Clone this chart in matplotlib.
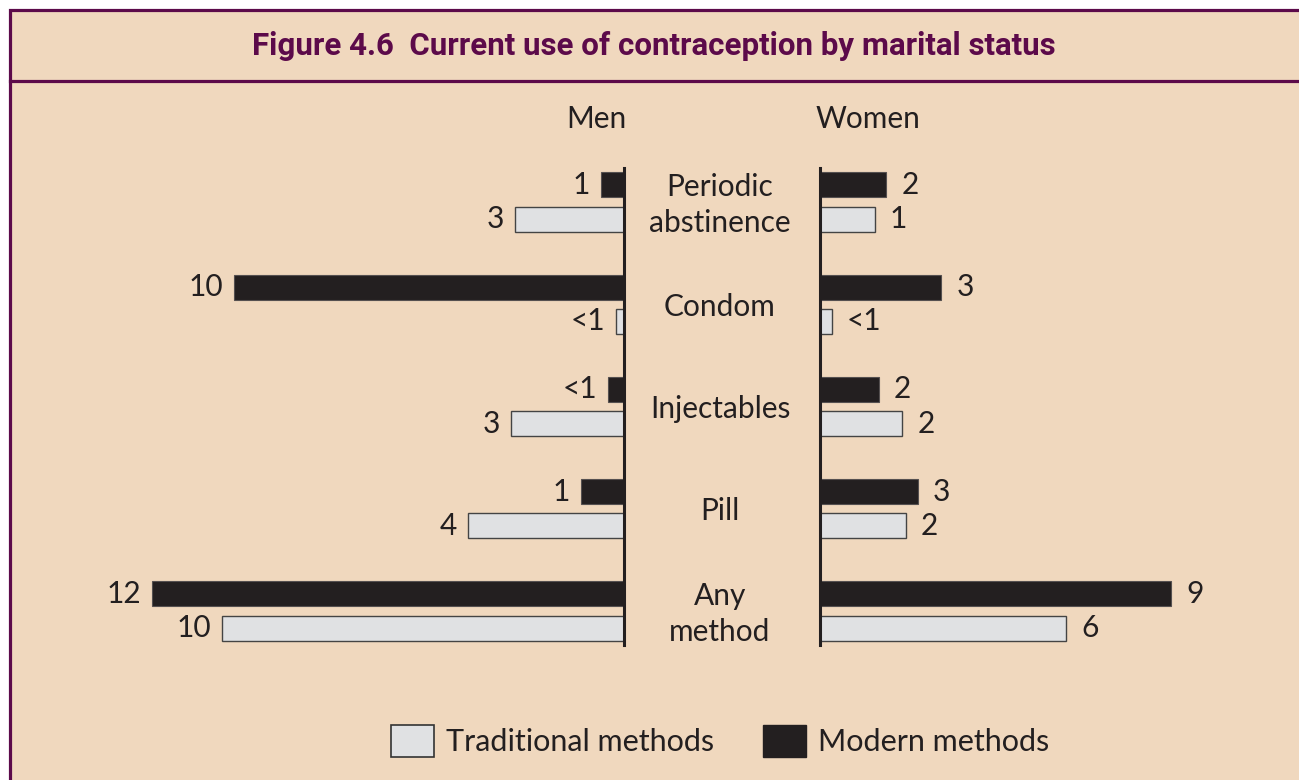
import matplotlib.pyplot as plt
from matplotlib.patches import Rectangle, Patch
import numpy as np

plt.rcParams['font.family'] = ['Lato', 'DejaVu Sans']

# --------------------------
# data
# --------------------------
methods = ['Periodic\nabstinence', 'Condom', 'Injectables', 'Pill', 'Any\nmethod']
men_modern = [0.6, 10.0, 0.4, 1.1, 12.1]
men_trad = [2.8, 0.2, 2.9, 4.0, 10.3]
women_modern = [1.7, 3.1, 1.5, 2.5, 9.0]
women_trad = [1.4, 0.3, 2.1, 2.2, 6.3]
men_modern_lbl = ['1', '10', '<1', '1', '12']
men_trad_lbl = ['3', '<1', '3', '4', '10']
women_modern_lbl = ['2', '3', '2', '3', '9']
women_trad_lbl = ['1', '<1', '2', '2', '6']

BG = '#f0d8be'
DARK = '#231f20'
LIGHT = '#e0e1e3'
PURPLE = '#5c0a4a'
TXT = '#231f20'

W, H = 1299, 780
fig = plt.figure(figsize=(W / 100, H / 100), dpi=100, facecolor='white')

def fx(px):
    return px / W

def fy(py):
    return 1 - py / H

# frame + title band
fig.add_artist(Rectangle((fx(10), fy(800)), fx(1400) - fx(10), fy(10) - fy(800),
                         transform=fig.transFigure, facecolor=BG, edgecolor=PURPLE,
                         linewidth=2.3, zorder=0))
fig.add_artist(plt.Line2D([fx(10), 1.0], [fy(81), fy(81)], transform=fig.transFigure,
                          color=PURPLE, linewidth=2.3))
fig.text(fx(654), fy(46), 'Figure 4.6  Current use of contraception by marital status',
         ha='center', va='center', color=PURPLE, fontsize=22.5, fontweight='bold',
         family=['Roboto', 'DejaVu Sans'])

# axes geometry (pixels)
top, bot = 168, 645
y0 = -0.3325
y1 = 4.333
scale = 39.0  # px per unit
men_left, men_zero = 100, 624
wom_zero, wom_right = 820, 1250

ax_m = fig.add_axes([fx(men_left), fy(bot), fx(men_zero - men_left), fy(top) - fy(bot)])
ax_w = fig.add_axes([fx(wom_zero), fy(bot), fx(wom_right - wom_zero), fy(top) - fy(bot)])

y = np.arange(len(methods))
off = 0.167
bh = 0.245
fs = 21.5

for ax in (ax_m, ax_w):
    ax.set_facecolor('none')
    ax.set_ylim(y1, y0)
    ax.set_xticks([])
    ax.set_yticks([])
    for s in ax.spines.values():
        s.set_visible(False)

ax_m.set_xlim((men_zero - men_left) / scale, 0)
ax_w.set_xlim(0, (wom_right - wom_zero) / scale)
ax_m.spines['right'].set_visible(True)
ax_m.spines['right'].set_linewidth(2.2)
ax_m.spines['right'].set_color(DARK)
ax_w.spines['left'].set_visible(True)
ax_w.spines['left'].set_linewidth(2.2)
ax_w.spines['left'].set_color(DARK)

ax_m.barh(y - off, men_modern, height=bh, color=DARK, edgecolor='#555050', linewidth=0.8)
ax_m.barh(y + off, men_trad, height=bh, color=LIGHT, edgecolor='#444', linewidth=1.0)
ax_w.barh(y - off, women_modern, height=bh, color=DARK, edgecolor='#555050', linewidth=0.8)
ax_w.barh(y + off, women_trad, height=bh, color=LIGHT, edgecolor='#444', linewidth=1.0)

for i in range(len(methods)):
    ax_m.annotate(men_modern_lbl[i], (men_modern[i], y[i] - off), xytext=(-8, 0),
                  textcoords='offset points', ha='right', va='center', fontsize=fs, color=TXT)
    ax_m.annotate(men_trad_lbl[i], (men_trad[i], y[i] + off), xytext=(-8, 0),
                  textcoords='offset points', ha='right', va='center', fontsize=fs, color=TXT)
    ax_w.annotate(women_modern_lbl[i], (women_modern[i], y[i] - off), xytext=(11, 0),
                  textcoords='offset points', ha='left', va='center', fontsize=fs, color=TXT)
    ax_w.annotate(women_trad_lbl[i], (women_trad[i], y[i] + off), xytext=(11, 0),
                  textcoords='offset points', ha='left', va='center', fontsize=fs, color=TXT)
    # category label between the panels
    ax_w.annotate(methods[i], (0, y[i]), xytext=(-72, -2), textcoords='offset points',
                  ha='center', va='center', fontsize=fs, color=TXT, linespacing=1.33,
                  annotation_clip=False)

fig.text(fx(596), fy(119), 'Men', ha='center', va='center', fontsize=fs, color=TXT)
fig.text(fx(868), fy(119), 'Women', ha='center', va='center', fontsize=fs, color=TXT)

handles = [Patch(facecolor=LIGHT, edgecolor='#333', linewidth=1.2, label='Traditional methods'),
           Patch(facecolor=DARK, edgecolor=DARK, label='Modern methods')]
fig.legend(handles=handles, loc='center', bbox_to_anchor=(fx(720), fy(741)), ncol=2,
           frameon=False, fontsize=22, handlelength=1.4, handleheight=1.27,
           handletextpad=0.4, columnspacing=1.6, labelcolor=TXT)

fig.savefig('out.png', dpi=100, facecolor='white')
